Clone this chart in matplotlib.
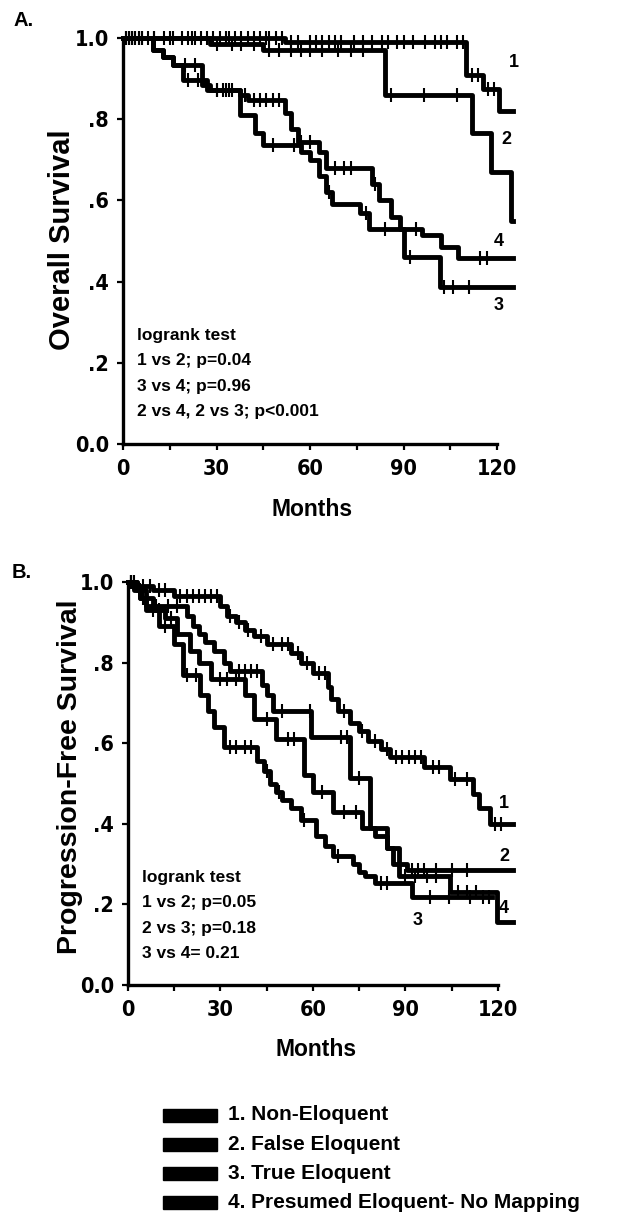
import numpy as np
import matplotlib
matplotlib.use("Agg")
import matplotlib.pyplot as plt
from matplotlib import font_manager

# ---- Panel A: overall survival (step times in months, survival after each step) ----
a1_t = [0, 52, 110, 115.5, 120.5]
a1_s = [1.0, 0.99, 0.91, 0.875, 0.82]
a1_cens = [1, 2, 3, 4, 5, 6, 8, 10, 13, 16, 19, 21, 23, 25, 27, 29, 31, 33, 34, 36, 38, 40,
           42, 44, 46, 47, 49, 51, 54, 56, 60, 62, 64, 66, 68, 70, 74, 77, 80, 83, 85, 88,
           90, 93, 97, 100, 102, 104, 107, 109, 112, 114, 117, 119]

a2_t = [0, 28, 45, 84, 112, 118, 124.5]
a2_s = [1.0, 0.985, 0.97, 0.86, 0.765, 0.67, 0.55]
a2_cens = [3, 6, 10, 15, 22, 30, 35, 38, 42, 47, 50, 54, 57, 60, 64, 69, 73, 77, 86, 96.5, 107]

a3_t = [0, 9.6, 12.8, 16, 19.2, 27, 37.5, 42.3, 45, 57, 60, 63, 65, 67, 76, 79, 90, 101.7]
a3_s = [1.0, 0.97, 0.953, 0.933, 0.897, 0.872, 0.81, 0.766, 0.736, 0.72, 0.70, 0.66, 0.62,
        0.59, 0.57, 0.53, 0.46, 0.387]
a3_cens = [1, 3, 5, 21, 24, 30, 32, 34, 48, 55, 66, 78, 84, 92, 103, 106, 111]

a4_t = [0, 9.6, 12.8, 16, 25.3, 28, 37.5, 40, 52, 54, 56, 63, 65, 80, 82, 86, 89, 96, 102, 107.5]
a4_s = [1.0, 0.97, 0.953, 0.933, 0.884, 0.872, 0.86, 0.847, 0.815, 0.775, 0.745, 0.72, 0.68,
        0.64, 0.60, 0.56, 0.53, 0.515, 0.485, 0.458]
a4_cens = [2, 4, 20, 23, 30, 33, 35, 39, 42, 44, 46, 48, 50, 57, 60, 68, 71, 73, 81, 94, 114.6, 116.8]

a_end = [125, 125, 125, 125]

# ---- Panel B: progression-free survival ----
b1_t = [0, 3, 8, 15, 30, 32, 35, 38, 41, 45, 53, 56, 60, 65, 66, 68, 72, 75, 78, 82, 85, 96,
        104.5, 112, 114, 117.5]
b1_s = [1.0, 0.99, 0.98, 0.965, 0.94, 0.915, 0.90, 0.88, 0.865, 0.845, 0.825, 0.80, 0.775,
        0.74, 0.71, 0.68, 0.65, 0.63, 0.605, 0.585, 0.565, 0.54, 0.51, 0.475, 0.44, 0.40]
b1_cens = [1, 2, 5, 7, 10, 12, 17, 19, 21, 23, 25, 27, 29, 33, 36, 39, 43, 47, 50, 52, 55, 58,
           62, 64, 70, 76, 80, 84, 87, 89, 91, 93, 95, 99, 101, 106, 110, 119, 121]

b2_t = [0, 3, 6, 19, 21, 23, 25, 28, 31, 33, 43.5, 45, 47, 59.5, 72, 78.5, 84, 88, 90.5]
b2_s = [1.0, 0.98, 0.94, 0.915, 0.89, 0.87, 0.85, 0.83, 0.80, 0.78, 0.745, 0.72, 0.68, 0.615,
        0.514, 0.39, 0.34, 0.30, 0.285]
b2_cens = [1, 4, 9, 13, 16, 36, 38, 40, 42, 50, 59, 69, 71, 75, 92, 94, 96, 100, 105, 110]

b3_t = [0, 2, 4, 6, 10, 15, 18, 23.5, 26, 28, 31, 42, 44, 46, 48, 50, 53, 56, 61, 64, 66.5,
        73, 75, 77, 80, 92]
b3_s = [1.0, 0.985, 0.96, 0.93, 0.89, 0.845, 0.77, 0.72, 0.68, 0.64, 0.59, 0.555, 0.53, 0.50,
        0.48, 0.46, 0.44, 0.41, 0.37, 0.345, 0.32, 0.30, 0.28, 0.27, 0.253, 0.218]
b3_cens = [1, 8, 12, 19, 22, 33, 35, 38, 40, 45, 49, 57, 68, 82, 84, 98, 104, 111, 115, 117]

b4_t = [0, 2, 4, 8, 12, 16, 20, 23, 27, 38, 41, 48, 57, 60, 66.5, 76, 80, 84, 86, 88, 104.5, 119.7]
b4_s = [1.0, 0.98, 0.96, 0.93, 0.91, 0.87, 0.83, 0.80, 0.76, 0.72, 0.66, 0.61, 0.52, 0.48,
        0.43, 0.39, 0.37, 0.34, 0.30, 0.27, 0.23, 0.157]
b4_cens = [1, 5, 10, 14, 30, 32, 35, 45, 52, 54, 63, 70, 74, 90, 93, 97, 100, 107, 110, 113]

b_end = [125, 125, 118, 125]

legend_labels = ["1. Non-Eloquent", "2. False Eloquent", "3. True Eloquent",
                 "4. Presumed Eloquent- No Mapping"]
x_ticks = [0, 30, 60, 90, 120]
y_ticks = [0.0, 0.2, 0.4, 0.6, 0.8, 1.0]
y_tick_labels = ["0.0", ".2", ".4", ".6", ".8", "1.0"]

plt.rcParams["font.family"] = ["Liberation Sans", "DejaVu Sans"]
plt.rcParams["font.weight"] = "bold"

# a condensed bold face for tick numbers, if one is installed
names = {f.name for f in font_manager.fontManager.ttflist}
cond = [f for f in font_manager.fontManager.ttflist
        if f.name == "DejaVu Sans" and "ondensed" in str(f.stretch) + f.fname]
if "Liberation Sans Narrow" in names:
    tick_font = dict(family=["Liberation Sans Narrow", "Liberation Sans"], size=17)
elif cond:
    tick_font = dict(family=["DejaVu Sans"], stretch="condensed", size=15.5)
else:
    tick_font = dict(family=["Liberation Sans"], size=16)

W, H = 623.0, 1215.0


def surv_at(t, s, x):
    i = np.searchsorted(t, x, side="right") - 1
    return np.asarray(s)[i]


def draw_km(ax, t, s, cens, end):
    tt = list(t) + [end]
    ss = list(s) + [s[-1]]
    ax.step(tt, ss, where="post", color="black", lw=3.5, clip_on=False, zorder=3)
    cy = surv_at(t, s, cens)
    ax.plot(cens, cy, ls="none", marker="|", ms=10, mew=1.5, color="black",
            clip_on=False, zorder=4)


def style_axes(ax):
    ax.set_xlim(0, 126)
    ax.set_ylim(0, 1.02)
    for side in ["top", "right"]:
        ax.spines[side].set_visible(False)
    ax.spines["left"].set_linewidth(2.4)
    ax.spines["bottom"].set_linewidth(2.4)
    ax.spines["left"].set_bounds(0, 1.0)
    ax.spines["bottom"].set_bounds(0, 120)
    ax.set_xticks(x_ticks)
    ax.set_xticks([15, 45, 75, 105], minor=True)
    ax.set_yticks(y_ticks)
    ax.set_yticklabels(y_tick_labels)
    ax.tick_params(axis="both", which="both", direction="out", length=4, width=1.6)
    ax.tick_params(axis="x", pad=7)
    ax.tick_params(axis="y", pad=6)
    for lab in ax.get_xticklabels() + ax.get_yticklabels():
        lab.set_fontproperties(font_manager.FontProperties(weight="bold", **tick_font))


def px(x, y):
    return x / W, 1 - y / H


fig = plt.figure(figsize=(6.23, 12.15), dpi=100)

# panel A
axA = fig.add_axes([123 / W, (H - 444) / H, 126 * 3.117 / W, 406 * 1.02 / H])
for t, s, c, e in zip([a1_t, a2_t, a3_t, a4_t], [a1_s, a2_s, a3_s, a4_s],
                      [a1_cens, a2_cens, a3_cens, a4_cens], a_end):
    draw_km(axA, t, s, c, e)
style_axes(axA)
fig.text(*px(312, 510), "Months", fontsize=16.5, fontweight="bold", ha="center", va="center")
fig.text(*px(62, 240), "Overall Survival", fontsize=21, fontweight="bold",
         rotation=90, ha="center", va="center")
axA.text(4.5, 0.285, "logrank test\n1 vs 2; p=0.04\n3 vs 4; p=0.96\n2 vs 4, 2 vs 3; p<0.001",
         fontsize=12.5, fontweight="bold", va="top", linespacing=1.85)
for lab, (xv, yv) in zip(["1", "2", "4", "3"],
                         [(125.5, 0.94), (123, 0.75), (120.5, 0.50), (120.5, 0.34)]):
    axA.text(xv, yv, lab, fontsize=13, fontweight="bold", ha="center", va="center")
fig.text(*px(13, 20), "A.", fontsize=14.5, fontweight="bold", va="center")

# panel B
axB = fig.add_axes([128 / W, (H - 985) / H, 126 * 3.083 / W, 403 * 1.02 / H])
for t, s, c, e in zip([b1_t, b2_t, b3_t, b4_t], [b1_s, b2_s, b3_s, b4_s],
                      [b1_cens, b2_cens, b3_cens, b4_cens], b_end):
    draw_km(axB, t, s, c, e)
style_axes(axB)
fig.text(*px(316, 1050), "Months", fontsize=16.5, fontweight="bold", ha="center", va="center")
fig.text(*px(70, 777), "Progression-Free Survival", fontsize=20.5, fontweight="bold",
         rotation=90, ha="center", va="center")
axB.text(4.5, 0.285, "logrank test\n1 vs 2; p=0.05\n2 vs 3; p=0.18\n3 vs 4= 0.21",
         fontsize=12.5, fontweight="bold", va="top", linespacing=1.85)
for lab, (xv, yv) in zip(["1", "2", "4", "3"],
                         [(122, 0.45), (122, 0.32), (122, 0.19), (94, 0.16)]):
    axB.text(xv, yv, lab, fontsize=13, fontweight="bold", ha="center", va="center")
fig.text(*px(12, 572), "B.", fontsize=14.5, fontweight="bold", va="center")

# legend as black swatches
for i, lab in enumerate(legend_labels):
    yc = 1115 + 29.3 * i
    x0, y0 = px(163, yc + 6.5)
    fig.patches.append(plt.Rectangle((x0, y0), 54 / W, 13 / H,
                                     transform=fig.transFigure, color="black"))
    fig.text(*px(228, yc), lab, fontsize=15, fontweight="bold", va="center")

fig.savefig("out.png", dpi=100, facecolor="white")
